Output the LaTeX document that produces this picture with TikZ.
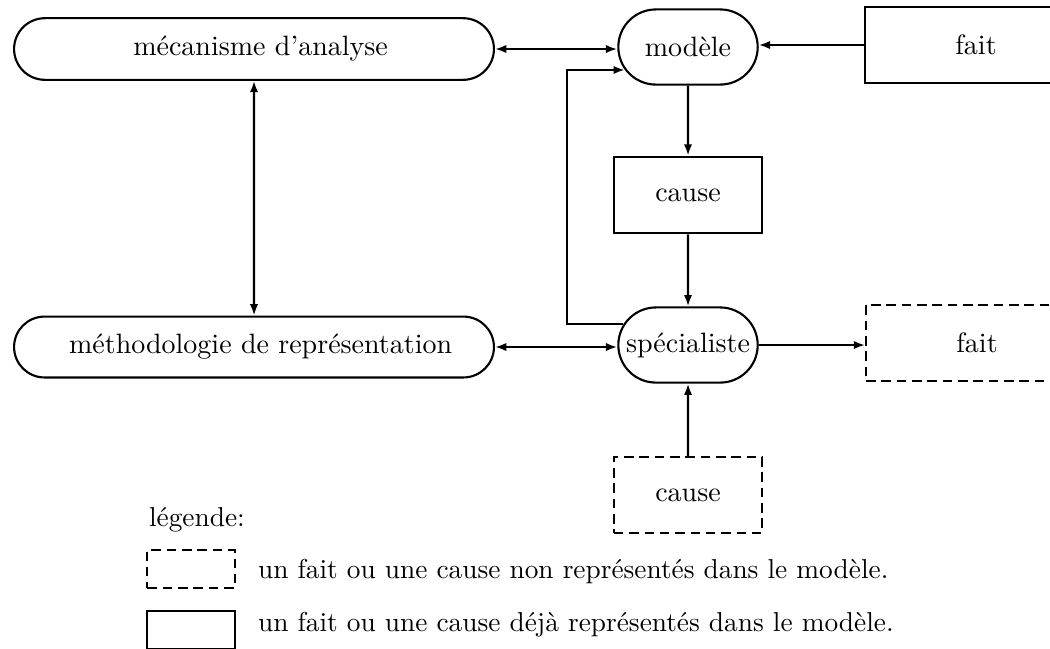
\documentclass[tikz,border=0pt]{standalone}
\usepackage{tikz}
\usetikzlibrary{shapes.misc,arrows.meta,positioning}

\tikzset{
	roundbox/.style={draw,rounded rectangle,inner sep=1.5pt},
	factbox/.style={draw,rectangle,inner sep=2pt},
	notmodel/.style={dash pattern=on 3.6pt off 2.2pt},
	legtext/.style={anchor=base west,inner sep=0,font=\fontsize{10.35pt}{12.5pt}\selectfont},
	link/.style={-{Latex[length=1.5mm,width=1.1mm]}},
	twolink/.style={{Latex[length=1.5mm,width=1.1mm]}-{Latex[length=1.5mm,width=1.1mm]}},
}

\begin{document}
\begin{tikzpicture}[x=0.0133cm,y=-0.0133cm,line width=0.8pt,font=\fontsize{10.6pt}{12.5pt}\selectfont]
	\useasboundingbox (0,0) rectangle (1050,648);
	% les deux blocs de gauche
	\node[roundbox,minimum width=6.49cm,minimum height=0.82cm] (meca) at (254,49) {\hspace*{5pt}mécanisme d'analyse};
	\node[roundbox,minimum width=6.49cm,minimum height=0.81cm] (meth) at (254,347) {\hspace*{5pt}méthodologie de représentation};
	% colonne du milieu
	\node[roundbox,minimum width=1.96cm,minimum height=1.0cm] (modele) at (688,47) {modèle};
	\node[factbox,minimum width=1.97cm,minimum height=1.02cm] (causeA) at (688,195) {cause};
	\node[roundbox,minimum width=1.96cm,minimum height=1.0cm] (spec) at (688,345) {spécialiste};
	\node[factbox,notmodel,minimum width=1.97cm,minimum height=1.01cm] (causeB) at (688,495) {cause};
	% faits a droite
	\node[factbox,minimum width=2.95cm,minimum height=1.0cm] (faitA) at (976,45) {fait};
	\node[factbox,notmodel,minimum width=2.95cm,minimum height=1.02cm] (faitB) at (977,343) {fait};

	\draw[twolink] (meca.east) -- (meca.east -| modele.west);
	\draw[twolink] (meca) -- (meth);
	\draw[twolink] (meth.east) -- (meth.east -| spec.west);
	\draw[link] (faitA.west) -- (faitA.west -| modele.east);
	\draw[link] (modele) -- (causeA);
	\draw[link] (causeA) -- (spec);
	\draw[link] (spec.east) -- (spec.east -| faitB.west);
	\draw[link] (causeB) -- (spec);
	\coordinate (bend) at (567,0);
	\draw[link] (spec.162) -- (spec.162 -| bend) |- (modele.200);

	% legende
	\node[legtext] (legtitle) at (148,526) {légende:};
	\node[factbox,notmodel,minimum width=1.16cm,minimum height=0.51cm] (legA) at (191,569) {};
	\node[legtext] (legAtext) at (257,578) {un fait ou une cause non représentés dans le modèle.};
	\node[factbox,minimum width=1.16cm,minimum height=0.51cm] (legB) at (191,630) {};
	\node[legtext] (legBtext) at (257,631) {un fait ou une cause déjà représentés dans le modèle.};
\end{tikzpicture}
\end{document}
